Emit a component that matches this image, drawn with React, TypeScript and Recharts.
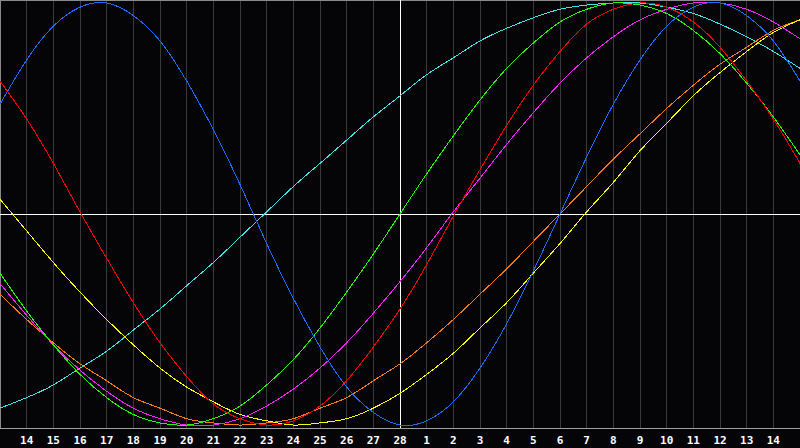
import { CartesianGrid, Line, LineChart, ReferenceLine, XAxis, YAxis } from "recharts";

// day-of-month labels under each grid line (grid index 1..29)
const dayLabels = [
  "14", "15", "16", "17", "18", "19", "20", "21", "22", "23", "24", "25", "26", "27", "28",
  "1", "2", "3", "4", "5", "6", "7", "8", "9", "10", "11", "12", "13", "14",
];

// cycle values in percent, one per grid index 0..30
const physical = [
  52, 73, 89, 98, 100, 94, 82, 63, 40, 14, -14, -40, -63, -82, -94, -100,
  -98, -89, -73, -52, -27, 0, 27, 52, 73, 89, 98, 100, 94, 82, 63,
];
const emotional = [
  63, 45, 24, 1, -21, -42, -61, -77, -90, -97, -100, -98, -91, -79, -63, -45,
  -24, -1, 21, 42, 61, 77, 90, 97, 100, 98, 91, 79, 63, 45, 24,
];
const intellectual = [
  -28, -46, -62, -76, -87, -95, -99, -100, -97, -91, -81, -69, -54, -37, -19, 0,
  19, 37, 54, 69, 81, 91, 97, 100, 99, 95, 87, 76, 62, 46, 28,
];
const intuitive = [
  -33, -48, -62, -74, -84, -92, -97, -100, -100, -97, -91, -83, -73, -61, -47, -32,
  -16, 1, 17, 33, 48, 62, 74, 84, 92, 97, 100, 100, 97, 91, 83,
];
const aesthetic = [
  7, -8, -23, -37, -50, -62, -73, -82, -89, -95, -98, -100, -99, -97, -92, -85,
  -76, -66, -54, -42, -28, -14, 1, 15, 30, 43, 56, 67, 77, 86, 92,
];
const awareness = [
  -38, -50, -61, -71, -79, -87, -92, -97, -99, -100, -99, -97, -92, -87, -79, -71,
  -61, -50, -38, -26, -13, 0, 13, 26, 38, 50, 61, 71, 79, 87, 92,
];
const spiritual = [
  -92, -87, -81, -73, -65, -55, -45, -34, -23, -11, 1, 13, 24, 35, 46, 56,
  66, 74, 82, 88, 93, 97, 99, 100, 100, 98, 95, 90, 84, 77, 69,
];

const data = physical.map((_, i) => ({
  k: i,
  physical: physical[i],
  emotional: emotional[i],
  intellectual: intellectual[i],
  intuitive: intuitive[i],
  aesthetic: aesthetic[i],
  awareness: awareness[i],
  spiritual: spiritual[i],
}));

const ticks = dayLabels.map((_, i) => i + 1);

const series = [
  { key: "spiritual", color: "#3ee4e8" },
  { key: "awareness", color: "#ff7a10" },
  { key: "aesthetic", color: "#ffff00" },
  { key: "intuitive", color: "#ff20ff" },
  { key: "intellectual", color: "#22ff00" },
  { key: "emotional", color: "#ff0000" },
  { key: "physical", color: "#1a6cff" },
];

export default function App() {
  return (
    <div style={{ position: "absolute", left: 0, top: 0, width: 800, height: 448, background: "#050508" }}>
      <LineChart width={800} height={448} data={data} margin={{ top: 0, right: 0, bottom: 0, left: 0 }}>
        <CartesianGrid vertical horizontal={false} stroke="#3a3a3a" shapeRendering="crispEdges" />
        <XAxis
          dataKey="k"
          type="number"
          domain={[0, 30]}
          ticks={ticks}
          interval={0}
          height={20}
          tickLine={false}
          axisLine={{ stroke: "#a0a0a0", shapeRendering: "crispEdges" }}
          tickFormatter={(v: number) => dayLabels[v - 1]}
          tick={{ fill: "#ffffff", fontSize: 11, fontWeight: "bold", fontFamily: "DejaVu Sans Mono" }}
        />
        <YAxis hide domain={[-101.4, 101.4]} />
        <ReferenceLine x={0} stroke="#8a8a8a" strokeWidth={2} />
        <ReferenceLine y={101.4} stroke="#8a8a8a" strokeWidth={2} />
        <ReferenceLine y={0} stroke="#ffffff" shapeRendering="crispEdges" />
        <ReferenceLine x={15} stroke="#ffffff" shapeRendering="crispEdges" />
        {series.map((s) => (
          <Line
            key={s.key}
            type="natural"
            dataKey={s.key}
            stroke={s.color}
            strokeWidth={1}
            shapeRendering="crispEdges"
            dot={false}
            activeDot={false}
            isAnimationActive={false}
          />
        ))}
      </LineChart>
    </div>
  );
}
